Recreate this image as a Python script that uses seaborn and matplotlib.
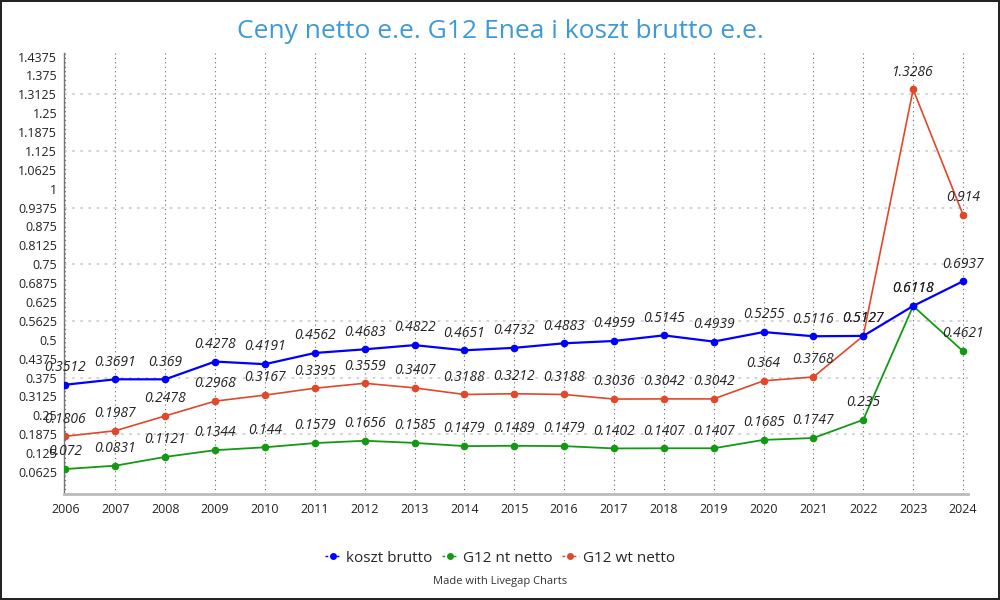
import matplotlib
matplotlib.use('Agg')
import matplotlib.pyplot as plt
from matplotlib.lines import Line2D
import seaborn as sns
import pandas as pd

years = list(range(2006, 2025))
koszt_brutto = [0.3512, 0.3691, 0.369, 0.4278, 0.4191, 0.4562, 0.4683, 0.4822, 0.4651, 0.4732,
                0.4883, 0.4959, 0.5145, 0.4939, 0.5255, 0.5116, 0.5127, 0.6118, 0.6937]
g12_nt_netto = [0.072, 0.0831, 0.1121, 0.1344, 0.144, 0.1579, 0.1656, 0.1585, 0.1479, 0.1489,
                0.1479, 0.1402, 0.1407, 0.1407, 0.1685, 0.1747, 0.235, 0.6118, 0.4621]
g12_wt_netto = [0.1806, 0.1987, 0.2478, 0.2968, 0.3167, 0.3395, 0.3559, 0.3407, 0.3188, 0.3212,
                0.3188, 0.3036, 0.3042, 0.3042, 0.364, 0.3768, 0.5127, 1.3286, 0.914]
series_names = ['koszt brutto', 'G12 nt netto', 'G12 wt netto']
colors = ['#0000ff', '#139a13', '#e2472a']
y_ticks = [0.0625 * i for i in range(1, 24)]

df = pd.DataFrame({'rok': years, 'koszt brutto': koszt_brutto,
                   'G12 nt netto': g12_nt_netto, 'G12 wt netto': g12_wt_netto})
long = df.melt(id_vars='rok', var_name='seria', value_name='cena')

sns.set_style('white')
plt.rcParams['font.family'] = ['Open Sans', 'DejaVu Sans']

fig = plt.figure(figsize=(10, 6), dpi=100)
fig.patch.set_edgecolor('#222222')
fig.patch.set_linewidth(1.5)
ax = fig.add_axes([0.064, 0.176, 0.904, 0.736])

# red underneath, then green, blue on top
for name, col, lw, z in zip(series_names, colors, [1.6, 1.3, 1.2], [4, 3, 2]):
    sub = long[long['seria'] == name]
    sns.lineplot(data=sub, x='rok', y='cena', ax=ax, color=col, marker='o',
                 markersize=5.5, markeredgewidth=0, linewidth=lw, zorder=z)
    for x, y in zip(sub['rok'], sub['cena']):
        ax.annotate(f'{y:g}', (x, y), xytext=(0, 7), textcoords='offset points',
                    ha='center', va='bottom', fontsize=10, fontstyle='italic',
                    color='#222222', zorder=6)

ax.set_xlim(2005.97, 2024.1)
ax.set_ylim(-0.012, 1.45)
ax.set_xticks(years)
ax.set_xticklabels([str(y) for y in years])
ax.set_yticks(y_ticks)
ax.set_yticklabels([f'{t:g}' for t in y_ticks])
ax.set_xlabel('')
ax.set_ylabel('')

for x in years:
    ax.axvline(x, color='#666666', linestyle=(0, (1, 3)), linewidth=0.8, zorder=0)
for t in y_ticks[2::3]:
    ax.axhline(t, color='#d0d0d0', linestyle=(0, (1.5, 3)), linewidth=1.3, zorder=0)

ax.spines['top'].set_visible(False)
ax.spines['right'].set_visible(False)
ax.spines['left'].set_color('#777777')
ax.spines['left'].set_linewidth(1)
ax.spines['bottom'].set_color('#bbbbbb')
ax.spines['bottom'].set_linewidth(2)
ax.tick_params(axis='y', length=3, color='#cccccc', labelsize=9, labelcolor='#222222', pad=2)
ax.tick_params(axis='x', length=0, labelsize=9, labelcolor='#222222', pad=6)

handles = [Line2D([0], [0], color=c, linestyle=(0, (2, 2)), linewidth=1, marker='o',
                  markersize=5, markeredgewidth=0) for c in colors]
fig.legend(handles, series_names, loc='center', bbox_to_anchor=(0.5, 0.07), ncol=3,
           frameon=False, fontsize=11, handlelength=1.1, handletextpad=0.3, columnspacing=0.6)

fig.text(0.5, 0.947, 'Ceny netto e.e. G12 Enea i koszt brutto e.e.', ha='center', va='center',
         fontsize=19, color='#3d9ad6')
fig.text(0.5, 0.031, 'Made with Livegap Charts', ha='center', va='center', fontsize=8,
         color='#333333')

fig.savefig('out.png', dpi=100, edgecolor=fig.get_edgecolor())
